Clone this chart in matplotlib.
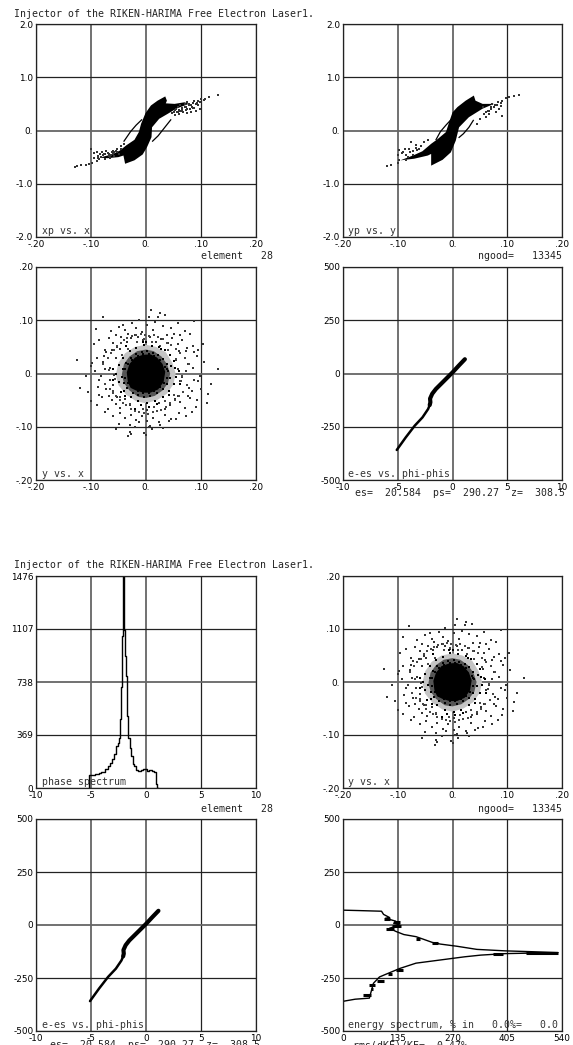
import numpy as np
import matplotlib
matplotlib.use("Agg")
import matplotlib.pyplot as plt

W, H = 573, 1045
mono = "DejaVu Sans Mono"

title = "Injector of the RIKEN-HARIMA Free Electron Laser1."

# tick labels
xx_ticks = [-.2, -.1, 0, .1, .2]
xx_labels = ["-.20", "-.10", "0.", ".10", ".20"]
xp_ticks = [-2, -1, 0, 1, 2]
xp_labels = ["-2.0", "-1.0", "0.", "1.0", "2.0"]
yy_labels = ["-.20", "-.10", "0.", ".10", ".20"]
ph_ticks = [-10, -5, 0, 5, 10]
ph_labels = ["-10", "-5", "0", "5", "10"]
ee_ticks = [-500, -250, 0, 250, 500]
ee_labels = ["-500", "-250", "0", "250", "500"]
cnt_ticks = [0, 369, 738, 1107, 1476]
cnt_labels = ["0", "369", "738", "1107", "1476"]
spec_ticks = [0, 135, 270, 405, 540]
spec_labels = ["0", "135", "270", "405", "540"]

# xp vs x, in 1/1000 of the axis units
xp_blob_x = [35, 21, 9, -1, -9, -13, -21, -36, -48, -62, -85, -70, -50, -41, -38, -21, -6, 2, 10, 11, 24, 39, 55, 78, 70, 52, 36, 38]
xp_blob_y = [640, 560, 470, 325, 125, -30, -175, -280, -380, -450, -510, -520, -500, -470, -625, -560, -450, -310, -125, 60, 220, 310, 410, 500, 530, 500, 510, 560]
xp_loop1_x = [-40, -28, -18, -8]
xp_loop1_y = [-200, -20, 100, 200]
xp_loop2_x = [12, 22, 35, 45]
xp_loop2_y = [-200, -100, 70, 200]
xp_tail_x = [130, 115, 108, 105, 100, 98, 95, 92, 90, 88, 85, 82, 78, 75, 72, 70, 66, 62, 60, 58, 55, 52, 50, 48,
             95, 88, 80, 72, 65, 58, 52, 98, 90, 82, 75, 68, 60,
             -130, -125, -118, -110, -104, -98, -94, -90, -88, -85, -82, -78, -74, -70, -66, -62, -58, -54, -50, -46,
             -94, -88, -80, -72, -65, -58, -52, -100, -90, -82, -75, -68, -60, -45, -40,
             70, 78, 84, 62, 56, 74, 66, 86, -76, -70, -64, -84, -58, -52, -60, -68]
xp_tail_y = [660, 620, 600, 580, 590, 530, 560, 520, 500, 550, 520, 470, 500, 540, 450, 490, 420, 470, 390, 440, 400, 380, 350, 330,
             470, 430, 410, 380, 400, 340, 300, 400, 360, 350, 330, 350, 310,
             -680, -670, -650, -640, -630, -610, -520, -580, -470, -540, -500, -460, -530, -420, -490, -410, -470, -380, -440, -350,
             -430, -510, -410, -390, -520, -430, -350, -350, -400, -500, -440, -480, -440, -300, -250,
             440, 470, 450, 370, 350, 400, 360, 430, -450, -420, -460, -440, -400, -400, -380, -440]

# yp vs y
yp_blob_x = [39, 24, 9, 0, -6, -12, -27, -39, -55, -70, -95, -70, -45, -39, -39, -18, -3, 6, 12, 30, 55, 76, 55, 42]
yp_blob_y = [656, 560, 440, 340, 160, -30, -160, -250, -390, -460, -560, -530, -470, -440, -660, -550, -410, -190, 60, 250, 410, 500, 500, 560]
yp_loop1_x = [-30, -22, -12, -3]
yp_loop1_y = [-170, -20, 100, 200]
yp_loop2_x = [12, 20, 30, 38]
yp_loop2_y = [-130, -60, 60, 190]
yp_tail_x = [121, 112, 103, 97, 91, 88, 82, 76, 70, 64, 58, 51, 45, 91, 79, 85, 67, 61, 73, 55, 88, 84, 78, 70, 62, 66,
             -120, -112, -100, -97, -97, -91, -85, -79, -76, -67, -61, -52, -45, -100, -85, -73, -64, -82, -92, -86, -78, -72, -66, -58]
yp_tail_y = [675, 656, 625, 612, 562, 512, 488, 437, 406, 375, 312, 219, 125, 281, 344, 406, 312, 250, 500, 437, 460, 540, 480, 450, 350, 370,
             -675, -656, -612, -562, -375, -406, -469, -344, -219, -281, -344, -219, -187, -469, -562, -469, -375, -500, -430, -350, -400, -380, -320, -300]

# y vs x
core_x = [35, 30, 20, 8, -6, -20, -30, -35, -33, -28, -18, -5, 8, 22, 32]
core_y = [3, 18, 30, 36, 35, 30, 18, 2, -16, -27, -32, -36, -36, -30, -16]
halo_x = [54, 48, 36, 18, 0, -20, -38, -50, -55, -50, -36, -18, 0, 20, 38, 50]
halo_y = [0, 20, 40, 50, 54, 50, 38, 20, -2, -22, -40, -52, -56, -50, -38, -20]
halo_in_x = [44, 38, 28, 14, 0, -16, -30, -40, -44, -40, -30, -14, 0, 16, 30, 40]
halo_in_y = [0, 18, 32, 42, 45, 42, 32, 18, -2, -18, -32, -44, -46, -42, -32, -18]
shell_x = [40, 38, 30, 22, 12, 2, -8, -18, -28, -36, -42, -44, -40, -34, -24, -14, -4, 8, 20, 30, 38, 44,
           52, 50, 44, 34, 24, 10, -4, -18, -30, -42, -50, -54, -50, -40, -28, -14, 2, 16, 30, 42, 50, 54,
           46, 28, -6, -36, -46, -38, -10, 20, 42, 60, -60, 0, 5, -60, 62, -20,
           35, 25, 15, 5, -5, -15, -25, -32, -38, -38, -32, -25, -15, -5, 5, 15, 25, 32, 38, 38]
shell_y = [5, 18, 28, 34, 38, 42, 40, 36, 30, 20, 8, -6, -18, -28, -36, -40, -44, -42, -36, -30, -20, -8,
           10, 24, 34, 44, 50, 52, 54, 48, 42, 30, 16, 0, -16, -32, -44, -52, -56, -52, -44, -32, -20, -6,
           14, 46, 60, 52, -34, -42, -60, -58, -40, 5, 8, 60, -62, -12, -20, -66,
           12, 26, 33, 36, 36, 33, 26, 18, 8, -8, -18, -26, -33, -36, -36, -33, -26, -18, -8, 8]
dense_x = [-78, -70, -64, -58, -52, -46, -40, -34, -26, -18, -10, -2, 6, 14, 22, 30, 38, 46, 54, 62, 70, 78,
           -74, -66, -60, -54, -48, -42, -36, -28, -20, -12, -4, 4, 12, 20, 28, 36, 44, 52, 60, 68, 74,
           -68, -56, -44, -32, -16, -4, 10, 26, 40, 54, 66,
           -60, -48, -30, -6, 14, 34, 50, 64]
dense_y = [18, 30, 38, 44, 52, 58, 62, 66, 70, 72, 74, 72, 70, 72, 68, 64, 58, 54, 46, 38, 30, 18,
           -20, -30, -36, -42, -50, -56, -60, -66, -70, -72, -74, -76, -72, -70, -68, -62, -56, -50, -42, -34, -22,
           6, -10, 34, 46, 60, 64, 60, 52, 44, 28, -4,
           -32, -44, -58, -66, -62, -52, -40, -14]
cloud_x = [-79, 9, 25, 22, 35, -13, 5, 17, 88, -91, -64, -50, -42, -38, -25, -18, -8, 2, 12, 30, 45, 58, 70, 80, -55, -33, -20, 38, 50, 62,
           -95, -85, -75, -68, -60, -52, -45, -35, -28, -14, -5, 8, 18, 28, 40, 48, 58, 66, 75, 85, 95, 103, -72, -62, -48, 60, 72, 88,
           -125, -110, -98, -90, -85, -78, -72, -65, -60, -55, -120, -105, -92, -82, -74, -66, -58, -100, -88, -76,
           130, 118, 105, 98, 92, 85, 78, 70, 62, 55, 112, 100, 88, 76, 66, 58, 95, 84, 72,
           -100, -90, -80, -70, -62, -55, -47, -38, -30, -20, -10, 2, 14, 24, 34, 44, 52, 62, 70, 80, 92, -85, -68, -52, 58, 76, 90, 110,
           -75, -60, -48, -38, -28, -18, -8, 2, 12, 24, 34, 46, 60, 72, 84, -50, -30, -12, 8, 26, 42, -55, -20, 5, 30, 55, -30, -3, 10, -32, -28, 0]
cloud_y = [106, 119, 114, 107, 109, 101, 107, 96, 98, 84, 80, 88, 92, 82, 95, 85, 78, 92, 82, 90, 86, 94, 80, 75, 72, 75, 72, 73, 74, 72,
           55, 62, 45, 66, 58, 50, 68, 60, 66, 68, 62, 68, 60, 64, 58, 66, 55, 62, 48, 52, 45, 55, 40, 44, 46, 42, 42, 40,
           25, -5, 20, 30, -12, 22, -30, 10, -22, 30, -28, -35, 5, -5, 8, -12, -2, 15, -25, 32,
           8, -20, 22, -5, 32, 10, -28, 30, -15, 25, -38, -30, -12, 18, -6, 8, -15, -32, 5,
           -52, -60, -45, -66, -50, -58, -64, -48, -60, -66, -60, -68, -62, -56, -66, -60, -48, -54, -64, -46, -50, -40, -42, -44, -42, -42, -62, -55,
           -72, -80, -74, -84, -78, -88, -80, -90, -84, -92, -78, -86, -74, -80, -72, -94, -96, -92, -98, -96, -90, -105, -101, -100, -102, -85, -110, -112, -105, -118, -113, -115]

# e-es vs phi-phis
phi_tail = [-5.09, -4.27, -3.45, -2.74, -2.23, -2.08]
de_tail = [-359, -300, -245, -206, -167, -148]
phi_main = [-2.08, -2.02, -2.05, -1.85, -1.52, -0.76, 0, 0.61, 1.13]
de_main = [-148, -135, -118, -95, -73, -34, 5, 39, 67]

# phase spectrum
phase_edges = [-5.2, -5.1, -4.8, -4.4, -4.2, -3.9, -3.6, -3.4, -3.2, -3.0, -2.8, -2.6, -2.5, -2.4, -2.3, -2.2, -2.15,
               -2.05, -1.95, -1.85, -1.75, -1.65, -1.55, -1.45, -1.3, -1.15, -1.0, -0.8, -0.6, -0.4, -0.2, 0, 0.2, 0.4, 0.6, 0.8, 0.95, 1.05]
phase_counts = [0, 88, 90, 95, 105, 112, 130, 150, 175, 200, 240, 290, 310, 345, 480, 700, 1060,
                1476, 1100, 920, 780, 500, 350, 280, 220, 170, 150, 125, 115, 125, 130, 135, 120, 125, 115, 110, 30, 0]

# energy spectrum
spec_cnt = [0, 40, 95, 100, 115, 105, 130, 125, 140, 115, 130, 150, 180, 195, 220, 240, 280, 330, 400, 450, 530,
            400, 340, 300, 240, 180, 140, 115, 90, 75, 70, 65, 30, 0]
spec_e = [70, 68, 65, 50, 35, 32, 18, 8, 0, -15, -30, -45, -55, -65, -82, -90, -100, -115, -122, -125, -130,
          -135, -142, -150, -165, -180, -205, -225, -245, -275, -310, -345, -350, -360]
thick_e = [-130, -138, -85, -65, -210, -232, -262, -285, -300, -330, 30, 15, -3, -20]
thick_lo = [450, 370, 220, 180, 130, 112, 85, 65, 68, 50, 100, 125, 120, 105]
thick_hi = [530, 395, 235, 190, 148, 122, 100, 78, 75, 68, 115, 140, 142, 125]


def panel(left, top, right, bottom, xt, xl, yt, yl, label):
    ax = fig.add_axes([left / W, 1 - bottom / H, (right - left) / W, (bottom - top) / H])
    ax.set_xlim(xt[0], xt[-1])
    ax.set_ylim(yt[0], yt[-1])
    ax.set_xticks(xt)
    ax.set_xticklabels(xl)
    ax.set_yticks(yt)
    ax.set_yticklabels(yl)
    ax.tick_params(length=0, labelsize=6.4, pad=2)
    ax.grid(True, color="#222222", lw=0.9)
    ax.get_xgridlines()[1].set(color="#666666", lw=1.3)
    ax.get_xgridlines()[2].set(color="#666666", lw=1.3)
    ax.get_ygridlines()[2].set(color="#666666", lw=1.3)
    ax.set_axisbelow(True)
    for s in ax.spines.values():
        s.set_linewidth(0.9)
        s.set_color("#222222")
    ax.text(0.025, 0.004, label, transform=ax.transAxes, family=mono, fontsize=7.1,
            color="#333333", va="bottom", ha="left")
    return ax


def milli(v):
    return np.array(v) / 1000


def draw_phase(ax, blob_x, blob_y, loop1_x, loop1_y, loop2_x, loop2_y, tail_x, tail_y):
    ax.fill(milli(blob_x), milli(blob_y), color="k", lw=0)
    ax.plot(milli(loop1_x), milli(loop1_y), color="k", lw=0.9)
    ax.plot(milli(loop2_x), milli(loop2_y), color="k", lw=0.9)
    ax.scatter(milli(tail_x), milli(tail_y), s=1.5, marker="s", color="#333333", lw=0)


def draw_cloud(ax):
    ax.fill(milli(halo_x), milli(halo_y), color="#c4c4c4", lw=0)
    ax.fill(milli(halo_in_x), milli(halo_in_y), color="#555555", lw=0)
    ax.scatter(milli(cloud_x), milli(cloud_y), s=1.2, marker="s", color="#333333", lw=0)
    ax.scatter(milli(dense_x), milli(dense_y), s=1.2, marker="s", color="#444444", lw=0)
    ax.scatter(milli(shell_x), milli(shell_y), s=2.2, marker="s", color="k", lw=0)
    ax.fill(milli(core_x), milli(core_y), color="k", lw=0)


def draw_energy_phase(ax):
    ax.plot(phi_tail, de_tail, color="k", lw=1.8, solid_capstyle="round")
    ax.plot(phi_main, de_main, color="k", lw=3.0, solid_capstyle="round", solid_joinstyle="round")


fig = plt.figure(figsize=(W / 100, H / 100), dpi=100)

# first page
ax1 = panel(36, 24, 256, 237, xx_ticks, xx_labels, xp_ticks, xp_labels, "xp vs. x")
draw_phase(ax1, xp_blob_x, xp_blob_y, xp_loop1_x, xp_loop1_y, xp_loop2_x, xp_loop2_y, xp_tail_x, xp_tail_y)
ax2 = panel(343, 24, 562, 237, xx_ticks, xx_labels, xp_ticks, xp_labels, "yp vs. y")
draw_phase(ax2, yp_blob_x, yp_blob_y, yp_loop1_x, yp_loop1_y, yp_loop2_x, yp_loop2_y, yp_tail_x, yp_tail_y)
ax3 = panel(36, 267, 256, 480, xx_ticks, xx_labels, xx_ticks, yy_labels, "y vs. x")
draw_cloud(ax3)
ax4 = panel(343, 267, 562, 480, ph_ticks, ph_labels, ee_ticks, ee_labels, "e-es vs. phi-phis")
draw_energy_phase(ax4)

# second page
ax5 = panel(36, 576, 256, 788, ph_ticks, ph_labels, cnt_ticks, cnt_labels, "phase spectrum")
ax5.step(phase_edges, phase_counts, where="mid", color="k", lw=1)
ax6 = panel(343, 576, 562, 788, xx_ticks, xx_labels, xx_ticks, yy_labels, "y vs. x")
draw_cloud(ax6)
ax7 = panel(36, 819, 256, 1031, ph_ticks, ph_labels, ee_ticks, ee_labels, "e-es vs. phi-phis")
draw_energy_phase(ax7)
ax8 = panel(343, 819, 562, 1031, spec_ticks, spec_labels, ee_ticks, ee_labels, "energy spectrum, % in   0.0%=   0.0")
ax8.plot(spec_cnt, spec_e, color="k", lw=1)
ax8.hlines(thick_e, thick_lo, thick_hi, color="k", lw=2.2)


def ftext(x, y, s, ha="left"):
    fig.text(x / W, 1 - y / H, s, family=mono, fontsize=7.1, color="#222222", ha=ha, va="center")


ftext(14, 14, title)
ftext(14, 565, title)
ftext(273, 256, "element   28", ha="right")
ftext(562, 256, "ngood=   13345", ha="right")
ftext(565, 493, "es=  20.584  ps=  290.27  z=  308.5", ha="right")
ftext(273, 809, "element   28", ha="right")
ftext(562, 809, "ngood=   13345", ha="right")
ftext(260, 1045, "es=  20.584  ps=  290.27  z=  308.5", ha="right")
ftext(353, 1045, "rms(dKE)/KE=  0.47%")

fig.savefig("out.png", dpi=100)
